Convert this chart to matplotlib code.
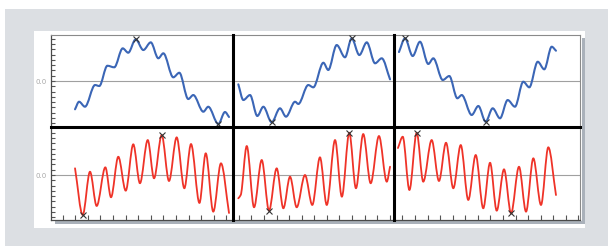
import matplotlib
matplotlib.use("Agg")
import matplotlib.pyplot as plt
import numpy as np
from matplotlib.patches import Rectangle, PathPatch
from matplotlib.lines import Line2D
from matplotlib.path import Path

# ---------------- data (x in tick units, y in tick units, 0 = "0.0" line) ----
blue1_x = [0.98, 1.30, 1.77, 2.57, 2.91, 3.55, 4.10, 4.77, 5.21, 5.80, 6.41, 7.00,
           7.60, 8.00, 8.79, 9.27, 9.98, 10.38, 11.18, 11.57, 12.37, 12.90, 13.22]
blue1_y = [-5.37, -3.93, -4.88, -0.76, -0.95, 2.90, 2.60, 6.20, 5.37, 7.91, 5.88, 7.34,
           4.31, 5.26, 0.70, 1.57, -3.42, -2.66, -5.83, -4.88, -8.16, -5.88, -6.83]

blue2_x = [13.96, 14.36, 14.89, 15.47, 15.95, 16.61, 17.27, 17.75, 18.47, 18.73, 19.52,
           19.92, 20.72, 21.11, 21.78, 22.44, 22.97, 23.58, 24.17, 24.83, 25.36, 26.02]
blue2_y = [-0.63, -3.61, -2.66, -6.64, -4.88, -7.84, -5.18, -6.77, -3.93, -4.36, -0.76,
           -1.20, 3.47, 2.09, 6.83, 4.50, 8.10, 4.93, 7.34, 3.36, 4.31, 0.32]

blue3_x = [26.73, 27.21, 27.82, 28.40, 29.06, 29.46, 30.21, 30.73, 31.37, 31.72, 32.51,
           33.04, 33.62, 34.18, 34.76, 35.37, 35.95, 36.61, 37.09, 37.76, 38.28, 38.87, 39.21]
blue3_y = [5.50, 8.10, 4.74, 7.46, 3.23, 4.31, 0.19, 0.95, -3.28, -2.66, -6.45,
           -4.74, -7.72, -5.18, -7.08, -3.61, -4.88, -0.13, -1.20, 3.66, 2.22, 6.51, 5.75]

red1_x = [0.98, 1.59, 2.17, 2.70, 3.39, 3.84, 4.42, 5.01, 5.61, 6.14, 6.76, 7.26,
          7.87, 8.45, 9.06, 9.67, 10.20, 10.87, 11.37, 11.97, 12.58, 13.22]
red1_y = [1.27, -7.59, 0.63, -5.88, 1.46, -4.23, 3.47, -2.98, 5.83, -1.57, 6.64, -0.63,
          7.59, -1.14, 7.15, -2.52, 5.88, -5.31, 4.12, -6.96, 2.22, -7.21]

red2_x = [13.96, 14.15, 14.63, 15.21, 15.82, 16.40, 17.01, 17.54, 18.07, 18.60, 19.26,
          19.84, 20.45, 20.99, 21.65, 22.19, 22.78, 23.31, 23.89, 24.48, 25.14, 25.76, 26.02]
red2_y = [-4.42, -3.80, 5.50, -6.13, 2.85, -6.77, 1.27, -6.32, -0.32, -6.13, 0.00,
          -5.69, 3.36, -5.69, 6.64, -4.12, 8.03, -2.52, 7.78, -1.57, 7.40, -1.27, 1.57]

red3_x = [26.65, 27.03, 27.56, 28.14, 28.66, 29.33, 29.91, 30.47, 31.05, 31.64, 32.24,
          32.83, 33.43, 33.97, 34.50, 35.08, 35.64, 36.27, 36.83, 37.41, 38.02, 38.60, 39.21]
red3_y = [5.12, 7.27, -2.85, 8.03, -1.27, 6.64, -1.14, 6.13, -2.52, 5.69, -4.74,
          3.80, -6.32, 2.33, -6.77, 1.08, -7.27, 1.57, -6.96, 3.17, -5.69, 5.26, -3.80]

zero_label = "0.0"

# ---------------- layout / style ------------------------------------------
W, H = 608, 246
BG = "#dcdfe3"
SHADOW = "#aab1ba"
BLUE = "#3b66b6"
RED = "#ef3328"

col_lims = [(-0.93, 13.5), (13.5, 26.36), (26.36, 41.12)]
row_lims = [(-8.79, 8.79), (-8.54, 9.05)]

fig = plt.figure(figsize=(W / 100, H / 100), dpi=100, facecolor="white")


def rect_px(x0, y0, x1, y1, color, z):
    fig.add_artist(Rectangle((x0 / W, 1 - y1 / H), (x1 - x0) / W, (y1 - y0) / H,
                             transform=fig.transFigure, facecolor=color,
                             edgecolor="none", zorder=z))


def smooth_path(x, y):
    """Smooth (monotone cubic Bezier) path passing through every data point."""
    x = np.asarray(x, float)
    y = np.asarray(y, float)
    h = np.diff(x)
    d = np.diff(y) / h
    n = len(x)
    m = np.zeros(n)
    m[0], m[-1] = d[0], d[-1]
    for i in range(1, n - 1):
        if d[i - 1] * d[i] <= 0:
            m[i] = 0.0
        else:
            h0, h1 = h[i - 1], h[i]
            m[i] = 3 * (h0 + h1) / ((2 * h1 + h0) / d[i - 1] + (h1 + 2 * h0) / d[i])
    verts = [(x[0], y[0])]
    codes = [Path.MOVETO]
    for i in range(n - 1):
        verts += [(x[i] + h[i] / 3, y[i] + m[i] * h[i] / 3),
                  (x[i + 1] - h[i] / 3, y[i + 1] - m[i + 1] * h[i] / 3),
                  (x[i + 1], y[i + 1])]
        codes += [Path.CURVE4] * 3
    return Path(verts, codes)


rect_px(5, 9, W, H, BG, -10)
rect_px(34, 31, 585, 227.5, "white", -9)
rect_px(581.5, 38, 584.5, 223.5, SHADOW, -8)
rect_px(55, 220.5, 584.5, 223.5, SHADOW, -8)

gs = fig.add_gridspec(2, 3, left=51 / W, right=580 / W, top=1 - 34.7 / H,
                      bottom=1 - 220 / H, wspace=0, hspace=0,
                      width_ratios=[b - a for a, b in col_lims],
                      height_ratios=[r[1] - r[0] for r in row_lims])

series = [[(blue1_x, blue1_y), (blue2_x, blue2_y), (blue3_x, blue3_y)],
          [(red1_x, red1_y), (red2_x, red2_y), (red3_x, red3_y)]]
colors = [BLUE, RED]
widths = [1.5, 1.3]

axes = [[None] * 3 for _ in range(2)]
for r in range(2):
    for c in range(3):
        ax = fig.add_subplot(gs[r, c])
        axes[r][c] = ax
        ax.set_facecolor("white")
        ax.set_xlim(*col_lims[c])
        ax.set_ylim(*row_lims[r])
        for s in ax.spines.values():
            s.set_visible(False)
        if c == 0:
            ax.spines["left"].set_visible(True)
            ax.spines["left"].set_color("#4a4a4a")
            ax.spines["left"].set_linewidth(0.9)
        if c == 2:
            ax.spines["right"].set_visible(True)
            ax.spines["right"].set_color("#8a8a8a")
            ax.spines["right"].set_linewidth(0.8)
        if r == 0:
            ax.spines["top"].set_visible(True)
            ax.spines["top"].set_color("#8a8a8a")
            ax.spines["top"].set_linewidth(0.8)
        if r == 1:
            ax.spines["bottom"].set_visible(True)
            ax.spines["bottom"].set_color("#4a4a4a")
            ax.spines["bottom"].set_linewidth(0.9)

        ax.axhline(0, color="#a0a0a0", lw=0.8, zorder=1)

        xs, ys = series[r][c]
        xs = np.asarray(xs)
        ys = np.asarray(ys)
        ax.add_patch(PathPatch(smooth_path(xs, ys), facecolor="none",
                               edgecolor=colors[r], lw=widths[r],
                               capstyle="round", joinstyle="round", zorder=2))
        for i in (int(np.argmax(ys)), int(np.argmin(ys))):
            ax.plot(xs[i], ys[i], "x", color="#333333", ms=4, mew=0.8,
                    clip_on=False, zorder=4)

        # y ticks
        if c == 0:
            yt = np.arange(-8, 9)
            ax.set_yticks(yt)
            ax.set_yticklabels([zero_label if v == 0 else "" for v in yt])
            ax.tick_params(axis="y", direction="in", length=3.0, width=0.8,
                           color="#555555", labelsize=5, labelcolor="#a8a8a8", pad=3)
        else:
            ax.set_yticks([])
        # x ticks
        if r == 1:
            lo, hi = col_lims[c]
            ax.set_xticks(np.arange(np.ceil(lo), np.floor(hi) + 1))
            ax.tick_params(axis="x", direction="in", length=3.6, width=0.8,
                           color="#555555", labelbottom=False)
        else:
            ax.set_xticks([])

# thick dividers
p_tl = axes[0][0].get_position()
p_tm = axes[0][1].get_position()
p_br = axes[1][2].get_position()
top_y, bot_y = p_tl.y1, p_br.y0
left_x, right_x = p_tl.x0, p_br.x1
for xd in (p_tl.x1, p_tm.x1):
    fig.add_artist(Line2D([xd, xd], [bot_y, top_y], transform=fig.transFigure,
                          color="black", lw=2.2, zorder=5))
fig.add_artist(Line2D([left_x, right_x], [p_tl.y0, p_tl.y0], transform=fig.transFigure,
                      color="black", lw=2.2, zorder=5))

fig.savefig("out.png", dpi=100, facecolor="white")
